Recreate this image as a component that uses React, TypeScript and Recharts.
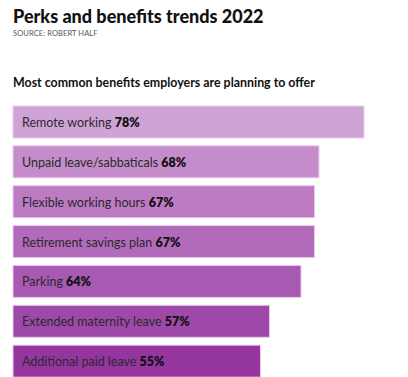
import React from "react";
import { BarChart, Bar, XAxis, YAxis, Cell, LabelList } from "recharts";

const categories = [
  "Remote working",
  "Unpaid leave/sabbaticals",
  "Flexible working hours",
  "Retirement savings plan",
  "Parking",
  "Extended maternity leave",
  "Additional paid leave",
];
const values = [78, 68, 67, 67, 64, 57, 55];
const colors = ["#D0A3D7", "#C58CCB", "#BC7BC3", "#B26BBB", "#A85AB3", "#9E49AA", "#9535A0"];

const data = categories.map((name, i) => ({ name, value: values[i] }));

const FONT = "Lato, 'Noto Sans', sans-serif";

const BarLabel = (props: any) => {
  const { x, y, height, index } = props;
  const d = data[index];
  return (
    <text
      x={x + 9}
      y={y + height / 2}
      dominantBaseline="central"
      fontFamily={FONT}
      fontSize={12.5}
      fill="#2a2a2a"
    >
      <tspan>{d.name} </tspan>
      <tspan fontWeight={800} fill="#111">{d.value}%</tspan>
    </text>
  );
};

export default function App() {
  return (
    <div
      style={{
        position: "fixed",
        top: 0,
        left: 0,
        width: 408,
        height: 377,
        overflow: "hidden",
        background: "#fff",
        fontFamily: FONT,
      }}
    >
      <div style={{ position: "absolute", left: 13, top: 5, fontSize: 18, fontWeight: 900, color: "#111", whiteSpace: "nowrap" }}>
        Perks and benefits trends 2022
      </div>
      <div style={{ position: "absolute", left: 13, top: 29, fontSize: 7.5, color: "#555", whiteSpace: "nowrap", letterSpacing: 0.1 }}>
        SOURCE: ROBERT HALF
      </div>
      <div style={{ position: "absolute", left: 13, top: 75, fontSize: 12.4, fontWeight: 700, color: "#111", whiteSpace: "nowrap" }}>
        Most common benefits employers are planning to offer
      </div>
      <div style={{ position: "absolute", left: 0, top: 0 }}>
        <BarChart
          width={408}
          height={381}
          data={data}
          layout="vertical"
          margin={{ top: 102, right: 17, bottom: 0, left: 13 }}
          barCategoryGap={0}
        >
          <XAxis type="number" domain={[0, 84]} hide />
          <YAxis type="category" dataKey="name" hide />
          <Bar dataKey="value" barSize={32} isAnimationActive={false} stroke="#E8CBEB" strokeWidth={1}>
            {data.map((d, i) => (
              <Cell key={d.name} fill={colors[i]} />
            ))}
            <LabelList dataKey="value" content={<BarLabel />} />
          </Bar>
        </BarChart>
      </div>
    </div>
  );
}
